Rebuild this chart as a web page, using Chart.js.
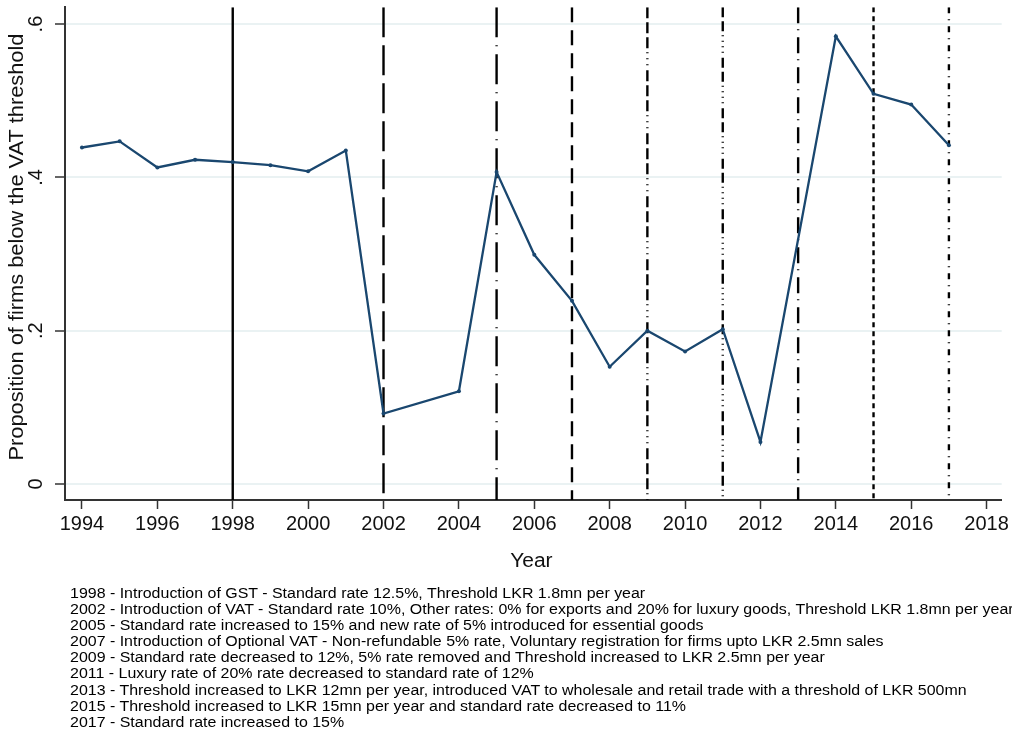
<!DOCTYPE html>
<html>
<head>
<meta charset="utf-8">
<script src="https://cdn.jsdelivr.net/npm/chart.js@4/dist/chart.umd.min.js"></script>
<style>
  html, body { margin: 0; padding: 0; background: #fff; }
  #wrap { position: relative; width: 1012px; height: 731px; overflow: hidden; }
  #notes {
    position: absolute; left: 70px; top: 585px;
    font: 14px "Liberation Sans", Arial, sans-serif; line-height: 16.1px;
    color: #000; white-space: pre;
    transform: scaleX(1.14); transform-origin: 0 0;
  }
</style>
</head>
<body>
<div id="wrap">
  <canvas id="chart" width="1012" height="731"></canvas>
  <div id="notes"></div>
</div>
<script>
// Share of firms under the VAT registration threshold, by year
const years = [1994, 1995, 1996, 1997, 1998, 1999, 2000, 2001, 2002, 2003, 2004, 2005,
               2006, 2007, 2008, 2009, 2010, 2011, 2012, 2013, 2014, 2015, 2016, 2017];
const shareBelow = [0.439, 0.447, 0.413, 0.423, 0.420, 0.416, 0.408, 0.435, 0.092, null, 0.121, 0.407,
                    0.299, 0.239, 0.153, 0.200, 0.173, 0.202, 0.055, null, 0.584, 0.509, 0.495, 0.442];

// Years of VAT / GST policy changes
const reformYears = [1998, 2002, 2005, 2007, 2009, 2011, 2013, 2015, 2017];

// Axis ticks
const xTickValues = [1994, 1996, 1998, 2000, 2002, 2004, 2006, 2008, 2010, 2012, 2014, 2016, 2018];
const yTickValues = [0, 0.2, 0.4, 0.6];
const yTickLabels = ['0', '.2', '.4', '.6'];

const reformNotes = [
  '1998 - Introduction of GST - Standard rate 12.5%, Threshold LKR 1.8mn per year',
  '2002 - Introduction of VAT - Standard rate 10%, Other rates: 0% for exports and 20% for luxury goods, Threshold LKR 1.8mn per year',
  '2005 - Standard rate increased to 15% and new rate of 5% introduced for essential goods',
  '2007 - Introduction of Optional VAT - Non-refundable 5% rate, Voluntary registration for firms upto LKR 2.5mn sales',
  '2009 - Standard rate decreased to 12%, 5% rate removed and Threshold increased to LKR 2.5mn per year',
  '2011 - Luxury rate of 20% rate decreased to standard rate of 12%',
  '2013 - Threshold increased to LKR 12mn per year, introduced VAT to wholesale and retail trade with a threshold of LKR 500mn',
  '2015 - Threshold increased to LKR 15mn per year and standard rate decreased to 11%',
  '2017 - Standard rate increased to 15%'
];

// ---- styling ----
const FONT = '"Liberation Sans", Arial, sans-serif';
const X_MIN = 1993.55, X_MAX = 2018.4;
const Y_MIN = -0.0208, Y_MAX = 0.622;
const reformLineDash = [
  [], [30, 8], [30, 8, 1, 8], [15, 8],
  [11, 4, 11, 4, 11, 4, 1, 5, 1, 5, 1, 5],
  [10, 4, 10, 4, 1, 4.5, 1, 4.5, 1, 4.5, 1, 5],
  [16, 6, 1, 7], [5, 4], [6, 6, 1, 6]
];

document.getElementById('notes').textContent = reformNotes.join('\n');

const seriesDataset = {
  data: years.map((y, i) => ({ x: y, y: shareBelow[i] })),
  borderColor: '#1a476f',
  backgroundColor: '#1a476f',
  borderWidth: 2.3,
  pointRadius: 2,
  pointBorderWidth: 0,
  spanGaps: true,
  order: 0
};

const reformDatasets = reformYears.map((yr, i) => ({
  data: [{ x: yr, y: Y_MAX }, { x: yr, y: Y_MIN }],
  borderColor: '#000',
  borderWidth: 2.4,
  borderDash: reformLineDash[i],
  borderCapStyle: 'butt',
  pointRadius: 0,
  order: 1
}));

// Rotated y tick labels and axis titles
const axisText = {
  id: 'axisText',
  afterDraw(chart) {
    const { ctx, scales, chartArea } = chart;
    ctx.save();
    ctx.fillStyle = '#111';
    ctx.font = '20px ' + FONT;
    ctx.textAlign = 'center';
    ctx.textBaseline = 'middle';
    yTickValues.forEach((v, i) => {
      const py = scales.y.getPixelForValue(v);
      ctx.save();
      ctx.translate(36, py);
      ctx.rotate(-Math.PI / 2);
      ctx.fillText(yTickLabels[i], 0, 0);
      ctx.restore();
    });
    ctx.save();
    ctx.translate(17, 247);
    ctx.rotate(-Math.PI / 2);
    ctx.scale(1.09, 1);
    ctx.fillText('Proposition of firms below the VAT threshold', 0, 0);
    ctx.restore();
    ctx.save();
    ctx.translate((chartArea.left + chartArea.right) / 2 - 2, 561);
    ctx.scale(1.05, 1);
    ctx.fillText('Year', 0, 0);
    ctx.restore();
    ctx.restore();
  }
};

new Chart(document.getElementById('chart'), {
  type: 'line',
  data: { datasets: [seriesDataset, ...reformDatasets] },
  options: {
    responsive: false,
    devicePixelRatio: 1,
    animation: false,
    layout: { padding: { left: 0, right: 9, top: 5, bottom: 0 } },
    plugins: { legend: { display: false }, tooltip: { enabled: false } },
    scales: {
      x: {
        type: 'linear',
        min: X_MIN,
        max: X_MAX,
        afterBuildTicks: s => { s.ticks = xTickValues.map(v => ({ value: v })); },
        afterFit: s => { s.height = 231; },
        grid: { drawOnChartArea: false, drawTicks: true, tickLength: 9, tickColor: '#333', tickWidth: 1.5 },
        border: { display: true, color: '#333', width: 2 },
        ticks: {
          color: '#111',
          font: { family: FONT, size: 20 },
          padding: 3,
          maxRotation: 0,
          autoSkip: false,
          callback: v => String(v)
        }
      },
      y: {
        type: 'linear',
        min: Y_MIN,
        max: Y_MAX,
        afterBuildTicks: s => { s.ticks = yTickValues.map(v => ({ value: v })); },
        afterFit: s => { s.width = 65; },
        grid: { color: '#eaf2f3', lineWidth: 2, drawTicks: true, tickLength: 10, tickColor: '#333', tickWidth: 1.5 },
        border: { display: true, color: '#333', width: 2 },
        ticks: { display: true, callback: () => '', padding: 0 }
      }
    }
  },
  plugins: [axisText]
});
</script>
</body>
</html>
